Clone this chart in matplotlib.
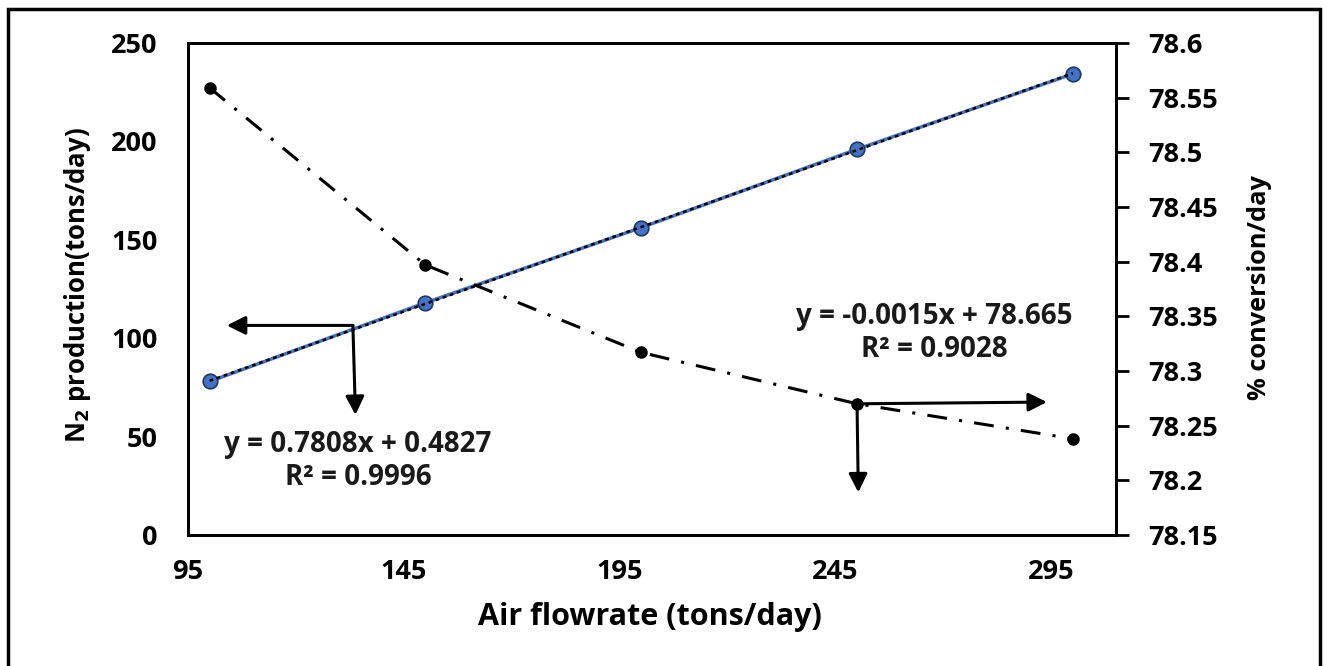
"""N2 production and % conversion vs air flowrate, with linear fits."""
import numpy as np
import matplotlib
matplotlib.use("Agg")
import matplotlib.pyplot as plt
from matplotlib.patches import Rectangle

plt.rcParams["font.family"] = ["Open Sans", "DejaVu Sans"]
plt.rcParams["font.weight"] = "bold"

# ---- data ----
air_flow = [100, 150, 200, 250, 300]
n2_prod = [78.0, 118.0, 156.2, 196.0, 234.3]          # tons/day (left axis)
conversion = [78.559, 78.397, 78.317, 78.270, 78.238]  # %/day (right axis)
fit_left = "y = 0.7808x + 0.4827\nR² = 0.9996"
fit_right = "y = -0.0015x + 78.665\nR² = 0.9028"
BLUE = "#4472C4"

fig = plt.figure(figsize=(13.28, 6.66), dpi=100)
ax = fig.add_axes([188/1328, 1-535/666, 928/1328, 492/666])
ax2 = ax.twinx()

# outer frame (bottom edge is cropped off in the original)
fig.patches.append(Rectangle((8/1328, -0.02), 1312/1328, 1.02-9/666,
                             transform=fig.transFigure, fill=False,
                             lw=2.5, ec="k"))

# N2 production + linear trendline (black dotted on top)
ax.plot(air_flow, n2_prod, "-", color=BLUE, lw=2.5, marker="o", ms=10.5,
        mfc=BLUE, mec="#1F3864", mew=1.2, zorder=3)
k, b = np.polyfit(air_flow, n2_prod, 1)
xx = np.array([air_flow[0], air_flow[-1]])
ax.plot(xx, k*xx + b, color="k", lw=1.8, ls=(0, (1.5, 1.5)), zorder=4)

# conversion, dash-dot
ax2.plot(air_flow, conversion, color="k", lw=2.2, ls=(0, (6.5, 4, 1, 4)),
         marker="o", ms=8, mfc="k", mec="k")

ax.set_xlim(95, 310)
ax.set_ylim(0, 250)
ax2.set_ylim(78.15, 78.6)
ax.set_xticks([95, 145, 195, 245, 295])
ax.set_yticks(np.arange(0, 251, 50))
ax2.set_yticks(np.round(np.arange(78.15, 78.601, 0.05), 2))
ax2.set_yticklabels(["78.15", "78.2", "78.25", "78.3", "78.35", "78.4",
                     "78.45", "78.5", "78.55", "78.6"])

ax.tick_params(axis="both", length=0, labelsize=19.5)
ax.tick_params(axis="x", pad=17)
ax.tick_params(axis="y", pad=22)
ax2.tick_params(axis="y", length=9, width=2, labelsize=19.5, pad=14)
for a in (ax, ax2):
    for s in a.spines.values():
        s.set_linewidth(2)

ax.set_xlabel("Air flowrate (tons/day)", fontsize=22, fontweight="bold",
              va="center")
ax.xaxis.set_label_coords(0.498, -0.167)
ax.set_ylabel("N$_2$ production(tons/day)", fontsize=18.5, fontweight="bold",
              va="center")
ax.yaxis.set_label_coords(-0.1196, 0.508)
ax2.set_ylabel("% conversion/day", fontsize=18.3, fontweight="bold",
               rotation=90, va="center")
ax2.yaxis.set_label_coords(1.155, 0.502)

# pointer arrows
arr = dict(arrowstyle="-|>", color="k", lw=2.2, mutation_scale=28,
           shrinkA=0, shrinkB=0)
ax.annotate("", xy=(104, 106.5), xytext=(133.2, 106.5), arrowprops=arr)
ax.annotate("", xy=(133.8, 61), xytext=(133.2, 106.5), arrowprops=arr)
ax2.annotate("", xy=(294, 78.2716), xytext=(250, 78.270), arrowprops=arr)
ax2.annotate("", xy=(250.3, 78.189), xytext=(250, 78.270), arrowprops=arr)

ax.text(134.4, 37.5, fit_left, ha="center", va="center", fontsize=20,
        fontweight="bold", linespacing=1.2, color="#1a1a1a")
ax.text(268, 102.5, fit_right, ha="center", va="center", fontsize=20,
        fontweight="bold", linespacing=1.2, color="#1a1a1a")

fig.savefig("out.png", dpi=100)
